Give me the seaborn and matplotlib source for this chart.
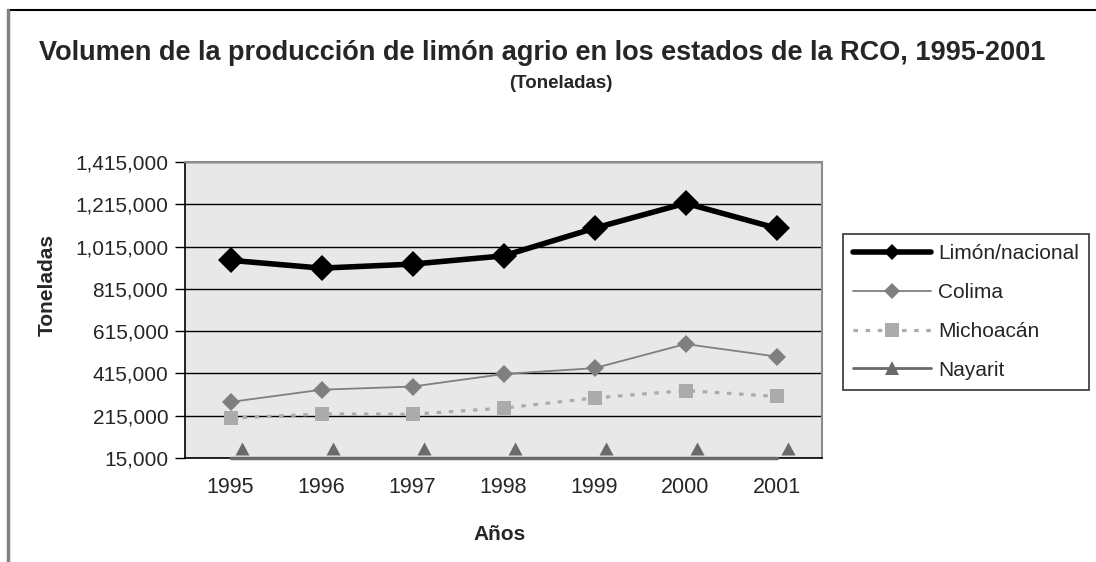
import numpy as np
import pandas as pd
import matplotlib
matplotlib.use("Agg")
import matplotlib.pyplot as plt
from matplotlib.lines import Line2D
from matplotlib.path import Path
from matplotlib.ticker import FuncFormatter, FixedLocator
import seaborn as sns

years = ["1995", "1996", "1997", "1998", "1999", "2000", "2001"]
limon_nacional = [950000, 913000, 932000, 971000, 1102000, 1220000, 1102000]
colima = [280000, 338000, 353000, 412000, 440000, 554000, 495000]
michoacan = [204000, 223000, 222000, 251000, 299000, 334000, 306000]
nayarit = [15000, 15000, 15000, 15000, 15000, 15000, 15000]
y_ticks = [15000, 215000, 415000, 615000, 815000, 1015000, 1215000, 1415000]

sns.set_style("white")
plt.rcParams["font.family"] = ["Liberation Sans", "DejaVu Sans"]

fig = plt.figure(figsize=(10.96, 5.62), dpi=100)
W, H = 1096, 562
ax = fig.add_axes([185 / W, 1 - 458 / H, (822 - 185) / W, (458 - 162) / H])
ax.set_facecolor("#E8E8E8")

x = np.arange(len(years))
df = pd.DataFrame({"x": x, "Limón/nacional": limon_nacional, "Colima": colima,
                   "Michoacán": michoacan, "Nayarit": nayarit})

# Nayarit line (at the base) and offset triangle markers
tri = Path([(4, 3), (18, 3), (11, 16), (4, 3)],
           [Path.MOVETO, Path.LINETO, Path.LINETO, Path.CLOSEPOLY])
sns.lineplot(data=df, x="x", y="Nayarit", ax=ax, color="#6A6A6A", lw=2.5,
             marker=tri, markersize=26, markeredgewidth=0, clip_on=False, zorder=3)
sns.lineplot(data=df, x="x", y="Michoacán", ax=ax, color="#ABABAB", lw=2.3,
             dashes=(1.4, 2.4), marker="s", markersize=10, markeredgewidth=0, zorder=4)
sns.lineplot(data=df, x="x", y="Colima", ax=ax, color="#7F7F7F", lw=1.3,
             marker="D", markersize=9, markeredgewidth=0, zorder=5)
sns.lineplot(data=df, x="x", y="Limón/nacional", ax=ax, color="black", lw=4,
             marker="D", markersize=13, markeredgewidth=0, zorder=6)

ax.set_xlim(-0.5, len(years) - 0.5)
ax.set_ylim(y_ticks[0], y_ticks[-1])
ax.yaxis.set_major_locator(FixedLocator(y_ticks))
ax.yaxis.set_major_formatter(FuncFormatter(lambda v, p: f"{int(v):,}"))
ax.grid(axis="y", color="black", lw=1)
ax.set_axisbelow(True)

ax.set_xticks(np.arange(-0.5, len(years)), [""] * (len(years) + 1))
ax.set_xticks(x, years, minor=True)
ax.tick_params(axis="x", which="major", length=7, width=1, color="black", direction="out")
ax.tick_params(axis="x", which="minor", length=0, labelsize=15.5, pad=14)
ax.tick_params(axis="y", length=7, width=1, color="black", direction="out",
               labelsize=15, pad=5, left=True)
ax.set_xlabel("")
ax.set_ylabel("")
for s in ["left", "bottom"]:
    ax.spines[s].set_color("black")
    ax.spines[s].set_linewidth(1.2)
for s in ["right", "top"]:
    ax.spines[s].set_color("#8C8C8C")
    ax.spines[s].set_linewidth(1.5)

# legend
handles = [
    Line2D([], [], color="black", lw=4, marker="D", markersize=8, markeredgewidth=0),
    Line2D([], [], color="#7F7F7F", lw=1.3, marker="D", markersize=8, markeredgewidth=0),
    Line2D([], [], color="#ABABAB", lw=2.3, ls=(0, (1.4, 2.4)), marker="s", markersize=10, markeredgewidth=0),
    Line2D([], [], color="#6A6A6A", lw=2, marker="^", markersize=10, markeredgewidth=0),
]
labels = ["Limón/nacional", "Colima", "Michoacán", "Nayarit"]
leg = fig.legend(handles, labels, loc="upper left", bbox_to_anchor=(843 / W, 1 - 234 / H),
                 frameon=True, fancybox=False, fontsize=15, handlelength=3.7,
                 handletextpad=0.35, labelspacing=0.95, borderpad=0.5, borderaxespad=0)
leg.get_frame().set_edgecolor("black")
leg.get_frame().set_linewidth(1.2)

# texts
fig.text(542 / W, 1 - 53 / H,
         "Volumen de la producción de limón agrio en los estados de la RCO, 1995-2001",
         ha="center", va="center", fontsize=19.5, fontweight="bold")
fig.text(561 / W, 1 - 83 / H, "(Toneladas)", ha="center", va="center",
         fontsize=13.5, fontweight="bold")
fig.text(47 / W, 1 - 285 / H, "Toneladas", ha="center", va="center",
         rotation=90, fontsize=15, fontweight="bold")
fig.text(500 / W, 1 - 535 / H, "Años", ha="center", va="center",
         fontsize=15, fontweight="bold")

# outer frame lines
fig.add_artist(Line2D([8 / W, 1], [1 - 10 / H, 1 - 10 / H], color="black", lw=1.5))
fig.add_artist(Line2D([8 / W, 8 / W], [0, 1 - 10 / H], color="#808080", lw=2.5))

fig.savefig("out.png", dpi=100)
